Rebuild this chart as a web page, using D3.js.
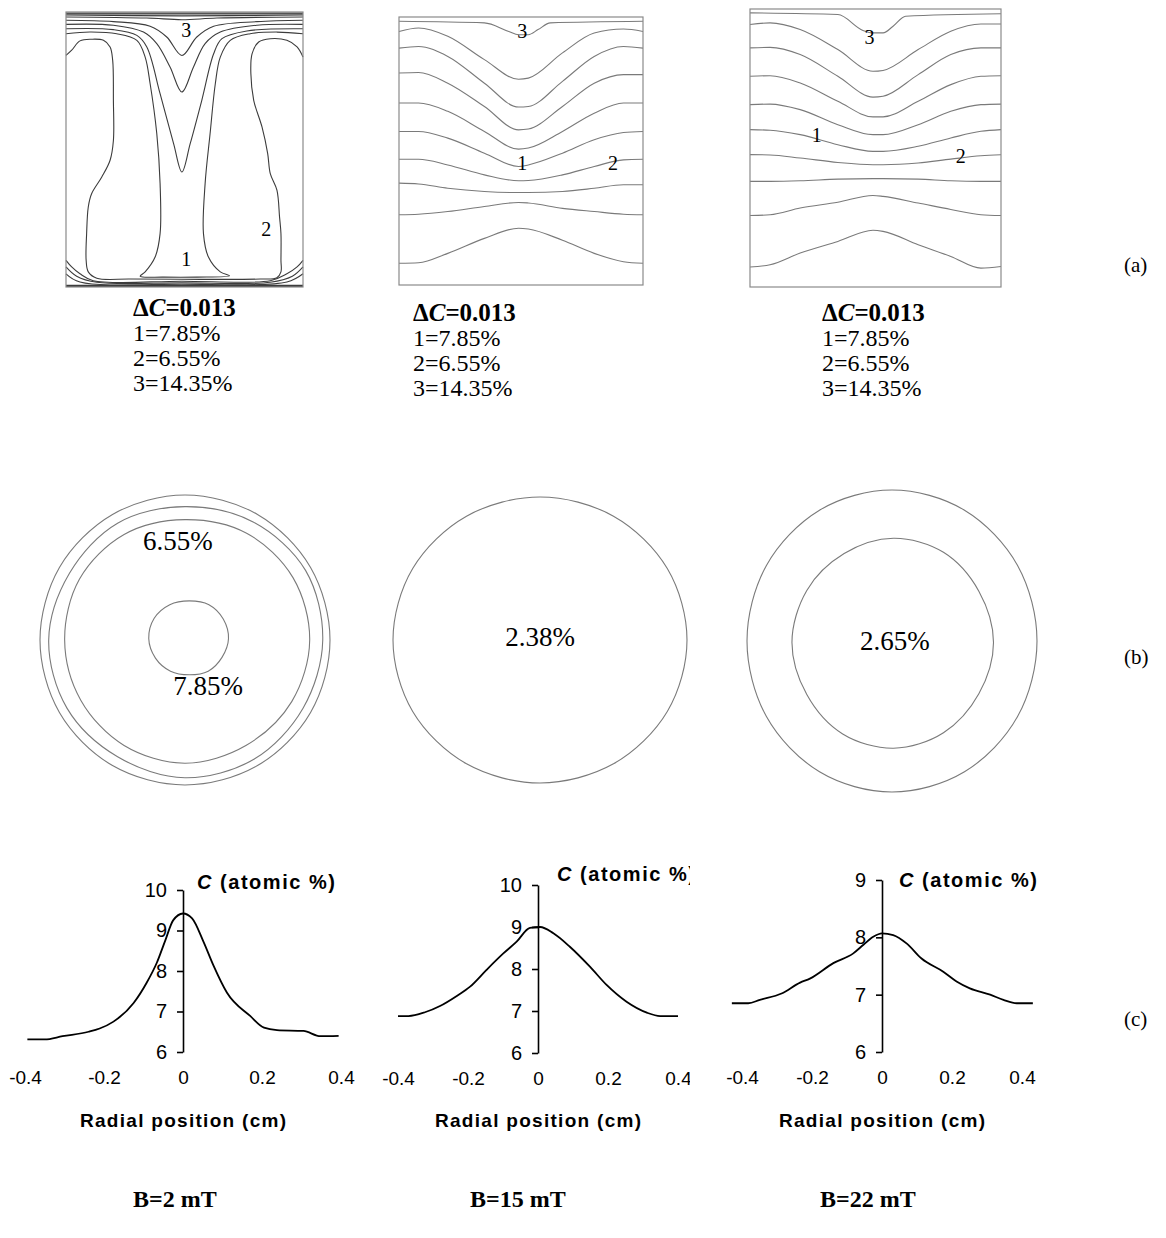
<!DOCTYPE html>
<html>
<head>
<meta charset="utf-8">
<script src="https://cdn.jsdelivr.net/npm/d3@7"></script>
<style>
  body { margin: 0; background: #fff; }
  svg { display: block; }
</style>
</head>
<body>
<svg id="figure" width="1166" height="1238"></svg>
<script>
// ---- values ----
const fieldLabels = ['B=2 mT', 'B=15 mT', 'B=22 mT'];
const panelTags = ['(a)', '(b)', '(c)'];
const levelLines = ['1=7.85%', '2=6.55%', '3=14.35%'];
const deltaC = '0.013';

// (a) B=2 mT: contour lines as [x %, y %] of the box (y from the top)
const contoursA1 = [
  [[0, 0.4], [100, 0.4]],
  [[0, 0.7], [100, 0.7]],
  [[0, 1.1], [48.9, 1.4], [100, 1.1]],
  [[0, 1.8], [34.1, 2.2], [48.9, 2.8], [63.7, 2.2], [100, 1.8]],
  [[0, 3.0], [20.0, 3.5], [35.5, 5.2], [42.5, 9.1], [48.9, 15.8], [55.2, 9.1], [62.3, 5.2], [80.6, 3.5], [100, 3.0]],
  [[0, 4.5], [20.0, 4.8], [32.7, 7.3], [38.3, 11.5], [43.9, 20.0], [48.9, 29.1], [53.8, 20.0], [58.7, 11.5], [65.1, 7.3], [80.6, 4.8], [100, 4.5]],
  [[0, 6.1], [20.0, 6.4], [29.9, 8.5], [34.1, 12.7], [39.7, 29.7], [45.4, 47.9], [48.9, 58.2], [52.4, 47.9], [57.3, 32.1], [62.3, 15.2], [65.8, 9.7], [76.3, 6.9], [100, 6.1]],
  [[0, 7.9], [10.1, 7.3], [21.4, 7.9], [29.9, 10.3], [33.4, 16.4], [35.5, 26.1], [38.3, 44.2], [39.7, 62.4], [39.7, 80.6], [37.6, 89.1], [33.4, 94.5], [31.3, 96.1],
   [41.1, 96.4], [55.2, 96.4], [69.0, 95.9], [65.1, 94.5], [60.1, 89.1], [58.0, 80.6], [58.7, 62.4], [60.8, 44.2], [63.0, 26.1], [65.1, 16.4], [69.3, 10.3], [77.7, 7.9], [89.0, 7.3], [100, 7.9]],
  [[0, 15.8], [2.4, 13.9], [5.9, 10.5], [10.8, 9.9], [15.8, 10.3], [18.6, 12.7], [19.7, 17.6], [20.0, 32.1], [20.0, 46.7], [18.6, 53.9], [15.1, 60.0], [10.8, 66.1], [9.4, 70.9], [8.7, 80.6], [8.5, 90.3], [9.4, 94.5], [13.0, 96.8],
   [27.0, 97.1], [48.9, 97.2], [82.0, 97.1], [89.0, 96.6], [90.7, 94.5], [90.7, 90.3], [90.7, 80.6], [90.1, 74.5], [89.0, 64.8], [86.2, 58.8], [85.1, 51.5], [82.7, 41.8], [79.2, 32.1], [78.0, 22.4], [78.5, 15.2], [81.3, 10.9], [86.2, 9.7], [93.2, 10.3], [97.5, 12.7], [100, 16.4]],
  [[0, 90.3], [2.4, 92.7], [5.9, 95.2], [11.5, 97.7], [48.9, 97.9], [86.2, 97.7], [93.2, 95.2], [97.5, 92.7], [100, 90.3]],
  [[0, 92.7], [4.5, 96.1], [13.0, 98.3], [48.9, 98.5], [86.2, 98.3], [95.5, 96.1], [100, 92.7]],
  [[0, 95.2], [5.9, 98.2], [48.9, 99.0], [93.2, 98.2], [100, 95.2]],
  [[0, 99.4], [100, 99.4]],
  [[0, 99.8], [100, 99.8]]
];
const labelsA1 = [['3', 50.7, 6.7], ['1', 50.7, 89.7], ['2', 84.5, 78.8]];

// (a) B=15 mT and B=22 mT: y % of each line at the x % stations below
const xsA = [0, 8, 20, 35, 49, 53, 67, 80, 92, 100];
const dipXsA = [0, 35, 45, 49, 53, 57, 62, 100];
const dipA2 = [1.6, 2.2, 5.4, 6.6, 6.6, 4.7, 2.2, 1.6];
const linesA2 = [
  [5.4, 4.1, 7.2, 15.9, 23.2, 22.8, 13.4, 6.0, 4.5, 5.4],
  [11.6, 11.0, 14.7, 24.7, 33.6, 33.4, 24.0, 14.7, 11.0, 11.6],
  [20.9, 20.7, 24.7, 33.4, 42.1, 41.8, 33.4, 24.7, 21.5, 21.5],
  [32.1, 32.1, 35.2, 42.7, 49.3, 48.9, 42.7, 35.9, 32.1, 32.1],
  [42.7, 42.7, 45.2, 50.8, 55.8, 55.2, 50.8, 45.8, 43.1, 42.7],
  [53.1, 53.1, 55.2, 58.9, 61.1, 61.0, 58.9, 55.8, 53.3, 53.1],
  [62.0, 62.3, 63.9, 65.1, 65.5, 65.5, 65.1, 63.9, 62.6, 62.6],
  [73.8, 73.6, 72.6, 70.7, 69.2, 69.4, 71.4, 72.6, 73.6, 73.8],
  [91.9, 91.7, 88.2, 82.6, 78.8, 79.1, 83.3, 88.2, 91.3, 91.9]
];
const labelsA2 = [['3', 50.5, 5.4], ['1', 50.5, 54.5], ['2', 87.7, 54.5]];

const dipA3 = [1.4, 2.0, 7.7, 8.6, 8.6, 6.2, 2.6, 1.7];
const linesA3 = [
  [5.6, 5.0, 7.4, 14.6, 22.4, 22.1, 14.6, 8.0, 5.4, 5.4],
  [14.0, 13.8, 16.4, 24.2, 31.7, 31.4, 23.6, 16.4, 14.0, 14.0],
  [24.2, 24.0, 26.6, 33.2, 38.8, 38.8, 33.2, 27.2, 24.2, 24.0],
  [34.4, 34.2, 36.2, 41.6, 45.2, 45.2, 41.6, 36.8, 34.4, 34.2],
  [43.4, 43.6, 45.2, 48.8, 51.2, 51.2, 49.4, 46.4, 44.0, 43.4],
  [52.4, 52.5, 53.6, 55.2, 56.0, 56.0, 55.4, 54.0, 52.8, 52.4],
  [62.0, 62.0, 61.8, 61.2, 61.0, 61.0, 61.2, 61.8, 62.0, 62.0],
  [74.3, 74.0, 71.6, 69.5, 67.1, 67.4, 69.8, 72.1, 74.0, 74.3],
  [92.8, 92.0, 87.8, 83.6, 79.6, 80.0, 84.8, 89.0, 93.2, 92.6]
];
const labelsA3 = [['3', 47.6, 10.1], ['1', 26.6, 45.2], ['2', 84.0, 52.8]];

// (b) cross-section contours: radius (fraction of crucible radius) every 30 degrees
const ringAngles = [0, 30, 60, 90, 120, 150, 180, 210, 240, 270, 300, 330];
const ringsB1 = [
  { cx: 0, cy: 0, r: [1, 1, 1, 1, 1, 1, 1, 1, 1, 1, 1, 1] },
  { cx: 0, cy: 0, r: [0.95, 0.94, 0.95, 0.95, 0.93, 0.94, 0.94, 0.92, 0.93, 0.92, 0.94, 0.96] },
  { cx: 0, cy: 0, r: [0.86, 0.85, 0.84, 0.85, 0.84, 0.83, 0.83, 0.84, 0.84, 0.83, 0.85, 0.86] },
  { cx: 0.03, cy: -0.01, r: [0.27, 0.26, 0.26, 0.25, 0.26, 0.27, 0.28, 0.28, 0.27, 0.26, 0.27, 0.27] }
];
const ringsB2 = [
  { cx: 0, cy: 0, r: [1, 1, 1, 1, 1, 1, 1, 1, 1, 1, 1, 1] }
];
const ringsB3 = [
  { cx: 0, cy: 0, r: [1, 1, 1, 1, 1, 1, 1, 1, 1, 1, 1, 1] },
  { cx: 0.01, cy: 0.01, r: [0.69, 0.68, 0.69, 0.70, 0.70, 0.69, 0.70, 0.69, 0.68, 0.69, 0.69, 0.68] }
];
const labelsB1 = [['6.55%', -0.05, -0.68], ['7.85%', 0.16, 0.32]];
const labelsB2 = [['2.38%', 0, -0.02]];
const labelsB3 = [['2.65%', 0.02, 0]];

// (c) radial profiles of C (atomic %)
const radialTicks = [-0.4, -0.2, 0, 0.2, 0.4];
const concTicks1 = [6, 7, 8, 9, 10];
const concTicks2 = [6, 7, 8, 9, 10];
const concTicks3 = [6, 7, 8, 9];
const radial1 = [-0.394, -0.35, -0.305, -0.239, -0.211, -0.176, -0.125, -0.092, -0.066, -0.045, -0.025, 0, 0.023, 0.052, 0.077, 0.111, 0.170, 0.205, 0.238, 0.305, 0.348, 0.394];
const conc1 = [6.31, 6.31, 6.39, 6.5, 6.58, 6.75, 7.21, 7.71, 8.21, 8.75, 9.25, 9.42, 9.30, 8.72, 8.14, 7.47, 6.89, 6.6, 6.54, 6.52, 6.39, 6.40];
const radial2 = [-0.4, -0.37, -0.323, -0.28, -0.232, -0.194, -0.147, -0.099, -0.061, -0.023, 0.006, 0.044, 0.091, 0.149, 0.196, 0.253, 0.311, 0.349, 0.4];
const conc2 = [6.88, 6.88, 6.97, 7.12, 7.36, 7.58, 7.98, 8.37, 8.65, 8.98, 9.0, 8.85, 8.53, 8.05, 7.62, 7.22, 6.96, 6.88, 6.88];
const radial3 = [-0.429, -0.382, -0.349, -0.287, -0.234, -0.206, -0.139, -0.082, -0.053, -0.025, 0, 0.032, 0.071, 0.113, 0.175, 0.213, 0.251, 0.309, 0.347, 0.385, 0.431];
const conc3 = [6.85, 6.85, 6.91, 7.02, 7.21, 7.28, 7.55, 7.72, 7.87, 8.01, 8.07, 8.04, 7.89, 7.63, 7.40, 7.23, 7.11, 7.0, 6.91, 6.85, 6.85];

// ---- drawing ----
const svg = d3.select('#figure');
const serif = "'Liberation Serif', 'Times New Roman', serif";
const sans = "'Liberation Sans', Arial, sans-serif";

// (a) longitudinal contour maps
const toPairs = (xs, ys) => xs.map((x, i) => [x, ys[i]]);
const boxesA = [
  { x0: 66, x1: 303, y0: 12, y1: 287, lines: contoursA1, labels: labelsA1, stroke: '#3c3c3c', curve: d3.curveCatmullRom.alpha(0.5) },
  { x0: 399, x1: 643, y0: 17, y1: 285, lines: [toPairs(dipXsA, dipA2)].concat(linesA2.map(ys => toPairs(xsA, ys))), labels: labelsA2, stroke: '#7a7a7a', curve: d3.curveMonotoneX },
  { x0: 750, x1: 1001, y0: 9, y1: 287, lines: [toPairs(dipXsA, dipA3)].concat(linesA3.map(ys => toPairs(xsA, ys))), labels: labelsA3, stroke: '#7a7a7a', curve: d3.curveMonotoneX }
];

boxesA.forEach(b => {
  const x = d3.scaleLinear().domain([0, 100]).range([b.x0, b.x1]);
  const y = d3.scaleLinear().domain([0, 100]).range([b.y0, b.y1]);
  const g = svg.append('g');
  const line = d3.line().x(d => x(d[0])).y(d => y(d[1])).curve(b.curve);

  g.selectAll('path.contour')
    .data(b.lines)
    .join('path')
    .attr('class', 'contour')
    .attr('d', line)
    .attr('fill', 'none')
    .attr('stroke', b.stroke)
    .attr('stroke-width', 1.1);

  g.append('rect')
    .attr('x', x(0)).attr('y', y(0))
    .attr('width', x(100) - x(0)).attr('height', y(100) - y(0))
    .attr('fill', 'none')
    .attr('stroke', '#8a8a8a')
    .attr('stroke-width', 1.2);

  g.selectAll('text')
    .data(b.labels)
    .join('text')
    .attr('x', d => x(d[1]))
    .attr('y', d => y(d[2]))
    .attr('text-anchor', 'middle')
    .attr('dominant-baseline', 'central')
    .attr('font-family', serif)
    .attr('font-size', 20)
    .text(d => d[0]);
});

// captions under the (a) maps
const captionX = [133, 413, 822];
const captionY = [316, 321, 321];
captionX.forEach((cx, i) => {
  const t = svg.append('text')
    .attr('x', cx).attr('y', captionY[i])
    .attr('font-family', serif)
    .attr('font-size', 25)
    .attr('font-weight', 'bold');
  t.append('tspan').text('\u0394');
  t.append('tspan').attr('font-style', 'italic').text('C');
  t.append('tspan').text('=' + deltaC);

  levelLines.forEach((s, j) => {
    svg.append('text')
      .attr('x', cx).attr('y', captionY[i] + 25 * (j + 1))
      .attr('font-family', serif)
      .attr('font-size', 24)
      .text(s);
  });
});

// (b) cross-section contours
const panelsB = [
  { cx: 185, cy: 640, rx: 145, ry: 145, rings: ringsB1, labels: labelsB1 },
  { cx: 540, cy: 640, rx: 147, ry: 143, rings: ringsB2, labels: labelsB2 },
  { cx: 892, cy: 641, rx: 145, ry: 151, rings: ringsB3, labels: labelsB3 }
];

panelsB.forEach(p => {
  const x = d3.scaleLinear().domain([-1, 1]).range([p.cx - p.rx, p.cx + p.rx]);
  const y = d3.scaleLinear().domain([-1, 1]).range([p.cy - p.ry, p.cy + p.ry]);
  const g = svg.append('g');
  const line = d3.line().x(d => x(d[0])).y(d => y(d[1])).curve(d3.curveCardinalClosed.tension(0));

  p.rings.forEach(ring => {
    const pts = ring.r.map((r, k) => {
      const a = ringAngles[k] * Math.PI / 180;
      return [ring.cx + r * Math.cos(a), ring.cy + r * Math.sin(a)];
    });
    g.append('path')
      .attr('d', line(pts))
      .attr('fill', 'none')
      .attr('stroke', '#7a7a7a')
      .attr('stroke-width', 1.1);
  });

  g.selectAll('text')
    .data(p.labels)
    .join('text')
    .attr('x', d => x(d[1]))
    .attr('y', d => y(d[2]))
    .attr('text-anchor', 'middle')
    .attr('dominant-baseline', 'central')
    .attr('font-family', serif)
    .attr('font-size', 27)
    .text(d => d[0]);
});

// (c) radial concentration profiles
const chartsC = [
  { xL: 25, xR: 341, yTop: 890, yBot: 1052, ticks: concTicks1, xs: radial1, cs: conc1, titleX: 197, titleY: 889, clip: null },
  { xL: 398, xR: 678, yTop: 885, yBot: 1053, ticks: concTicks2, xs: radial2, cs: conc2, titleX: 557, titleY: 881, clip: 690 },
  { xL: 742, xR: 1022, yTop: 880, yBot: 1052, ticks: concTicks3, xs: radial3, cs: conc3, titleX: 899, titleY: 887, clip: null }
];

chartsC.forEach((c, i) => {
  const x = d3.scaleLinear().domain([-0.4, 0.4]).range([c.xL, c.xR]);
  const y = d3.scaleLinear().domain([6, c.ticks[c.ticks.length - 1]]).range([c.yBot, c.yTop]);
  let g = svg.append('g');
  if (c.clip) {
    svg.append('clipPath').attr('id', 'clipC' + i)
      .append('rect').attr('x', 0).attr('y', 800).attr('width', c.clip).attr('height', 350);
    g.attr('clip-path', `url(#clipC${i})`);
  }

  const yAxis = g.append('g')
    .attr('transform', `translate(${x(0)},0)`)
    .call(d3.axisLeft(y).tickValues(c.ticks).tickSize(6).tickSizeOuter(0).tickPadding(10).tickFormat(d => String(d)));
  yAxis.select('.domain').attr('stroke', '#000').attr('stroke-width', 1.6);
  yAxis.selectAll('.tick line').attr('stroke', '#000').attr('stroke-width', 1.6);
  yAxis.selectAll('.tick text').attr('font-family', sans).attr('font-size', 20).attr('fill', '#000');

  const xAxis = g.append('g')
    .attr('transform', `translate(0,${y(6)})`)
    .call(d3.axisBottom(x).tickValues(radialTicks).tickSize(0).tickPadding(19).tickFormat(d => String(d)));
  xAxis.select('.domain').remove();
  xAxis.selectAll('.tick text').attr('font-family', sans).attr('font-size', 19).attr('fill', '#000');

  const line = d3.line().x(d => x(d[0])).y(d => y(d[1])).curve(d3.curveMonotoneX);
  g.append('path')
    .datum(toPairs(c.xs, c.cs))
    .attr('d', line)
    .attr('fill', 'none')
    .attr('stroke', '#000')
    .attr('stroke-width', 1.8);

  const title = g.append('text')
    .attr('x', c.titleX).attr('y', c.titleY)
    .attr('font-family', sans)
    .attr('font-size', 20)
    .attr('font-weight', 'bold')
    .attr('textLength', 138)
    .attr('lengthAdjust', 'spacing');
  title.append('tspan').attr('font-style', 'italic').text('C');
  title.append('tspan').text(' (atomic %)');

  g.append('text')
    .attr('x', x(0)).attr('y', 1127)
    .attr('text-anchor', 'middle')
    .attr('font-family', sans)
    .attr('font-size', 19)
    .attr('font-weight', 'bold')
    .attr('textLength', 206)
    .attr('lengthAdjust', 'spacing')
    .text('Radial position (cm)');
});

// field strength under each column
const fieldX = [133, 470, 820];
svg.selectAll('text.field')
  .data(fieldLabels)
  .join('text')
  .attr('class', 'field')
  .attr('x', (d, i) => fieldX[i])
  .attr('y', 1207)
  .attr('font-family', serif)
  .attr('font-size', 24)
  .attr('font-weight', 'bold')
  .text(d => d);

// row tags
const tagY = [272, 664, 1026];
svg.selectAll('text.tag')
  .data(panelTags)
  .join('text')
  .attr('class', 'tag')
  .attr('x', 1124)
  .attr('y', (d, i) => tagY[i])
  .attr('font-family', serif)
  .attr('font-size', 21)
  .text(d => d);
</script>
</body>
</html>
